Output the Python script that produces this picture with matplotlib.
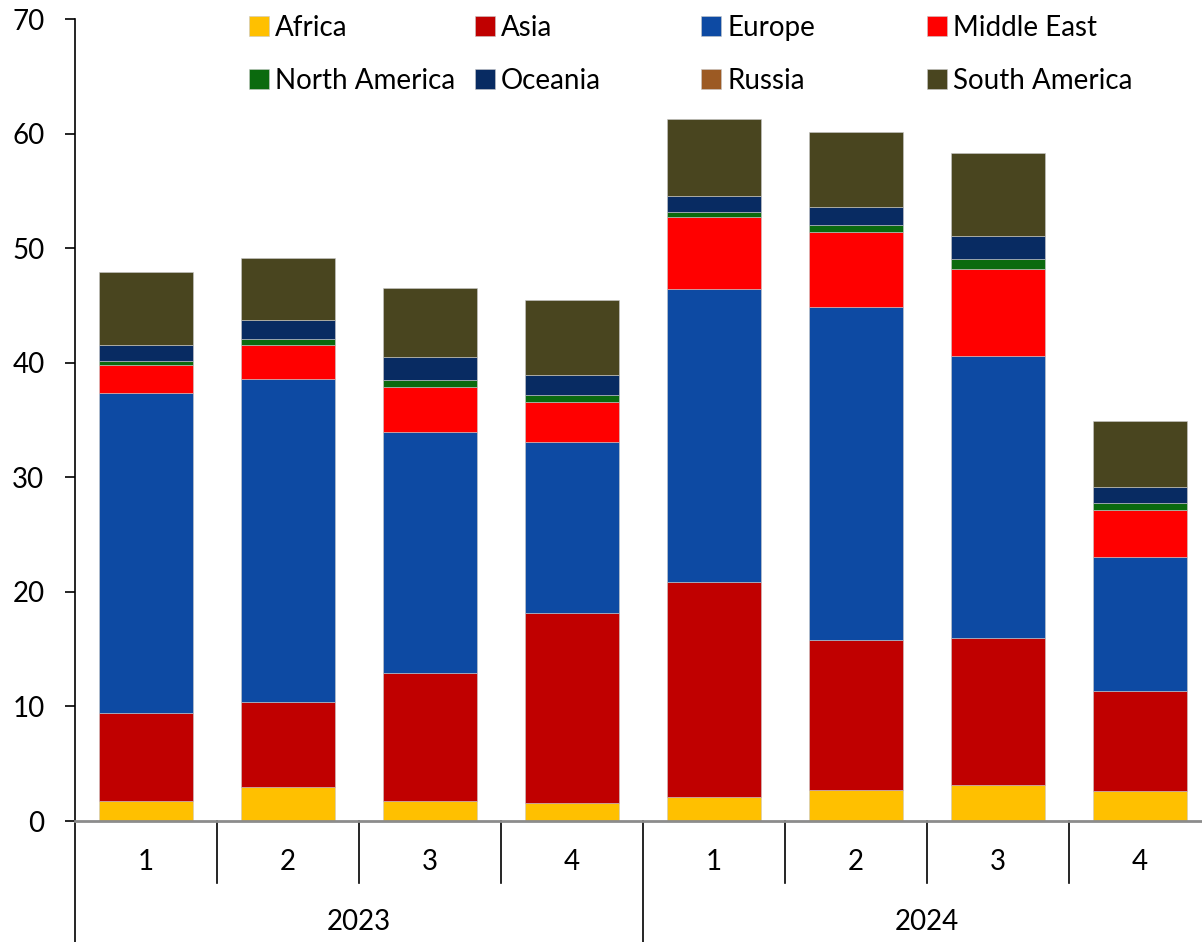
import numpy as np
import matplotlib.pyplot as plt
from matplotlib.transforms import blended_transform_factory

plt.rcParams['font.family'] = ['Lato', 'DejaVu Sans']

quarters = ['1', '2', '3', '4', '1', '2', '3', '4']
years = ['2023', '2024']
regions = ['Africa', 'Asia', 'Europe', 'Middle East',
           'North America', 'Oceania', 'Russia', 'South America']

africa = [1.72, 3.0, 1.72, 1.54, 2.07, 2.71, 3.14, 2.62]
asia = [7.7, 7.4, 11.2, 16.6, 18.8, 13.1, 12.83, 8.73]
europe = [27.9, 28.15, 21.03, 14.93, 25.6, 29.04, 24.62, 11.67]
middle_east = [2.44, 2.97, 3.93, 3.49, 6.28, 6.54, 7.56, 4.15]
north_america = [0.35, 0.52, 0.61, 0.61, 0.41, 0.61, 0.9, 0.59]
oceania = [1.4, 1.66, 1.98, 1.78, 1.35, 1.57, 2.01, 1.42]
russia = [0.0, 0.0, 0.0, 0.0, 0.0, 0.0, 0.0, 0.0]
south_america = [6.4, 5.4, 6.03, 6.54, 6.8, 6.58, 7.22, 5.71]

series = [africa, asia, europe, middle_east, north_america, oceania, russia, south_america]
colors = ['#FFC000', '#C00000', '#0D4AA3', '#FF0000',
          '#0B6A0E', '#082B62', '#9C5A23', '#49451F']

fig = plt.figure(figsize=(12.02, 9.42), dpi=100)
ax = fig.add_axes([75 / 1202, 1 - 821 / 942, 1136 / 1202, 802 / 942])

x = np.arange(len(quarters))
bottom = np.zeros(len(quarters))
handles = []
for name, vals, c in zip(regions, series, colors):
    vals = np.array(vals)
    b = ax.bar(x, vals, 0.66, bottom=bottom, color=c, label=name,
               edgecolor='#c8c8c8', linewidth=0.4)
    handles.append(b)
    bottom += vals

ax.set_xlim(-0.5, 7.5)
ax.set_ylim(0, 70)
ax.set_yticks(range(0, 71, 10))
ax.tick_params(axis='y', labelsize=20, length=7, width=1.2, direction='out', pad=15)
ax.tick_params(axis='x', length=0, labelbottom=False)
for s in ['top', 'right']:
    ax.spines[s].set_visible(False)
ax.spines['left'].set_linewidth(1.2)
ax.spines['bottom'].set_color('#8c8c8c')
ax.spines['bottom'].set_linewidth(2)

# multi level category axis
tr = blended_transform_factory(ax.transData, ax.transAxes)
q_low = -62 / 802
y_low = -121 / 802
for i in range(len(quarters) + 1):
    xb = i - 0.5
    low = y_low if i % 4 == 0 else q_low
    ax.plot([xb, xb], [0, low], color='black', lw=1.2, transform=tr, clip_on=False)
for i, q in enumerate(quarters):
    ax.text(i, -41 / 802, q, transform=tr, ha='center', va='center', fontsize=20)
for j, yr in enumerate(years):
    ax.text(j * 4 + 1.5, -101 / 802, yr, transform=tr, ha='center', va='center', fontsize=20)

# legend: 4 equal-width columns, filled row by row
col_x = [249, 475, 701, 927]
for c, px in enumerate(col_x):
    hs = [handles[c], handles[c + 4]]
    labs = [regions[c], regions[c + 4]]
    fig.legend(hs, labs, loc='upper left', bbox_to_anchor=(px / 1202, 1 - 15 / 942),
               frameon=False, fontsize=20, handlelength=0.72, handleheight=0.72,
               handletextpad=0.22, borderpad=0, borderaxespad=0, labelspacing=0.97)

fig.savefig('out.png', dpi=100)
